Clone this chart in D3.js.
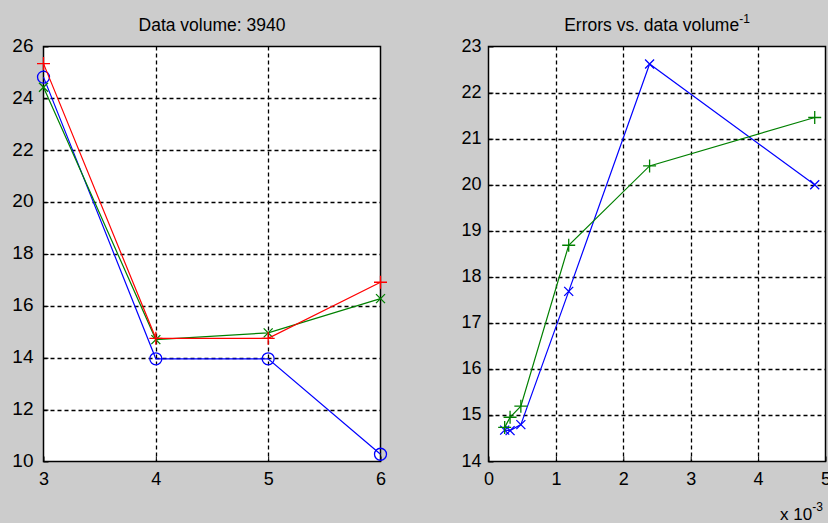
<!DOCTYPE html>
<html>
<head>
<meta charset="utf-8">
<script src="https://cdn.jsdelivr.net/npm/d3@7"></script>
<style>
  body { margin: 0; background: #cccccc; }
  svg { display: block; font-family: "Liberation Sans", Arial, sans-serif; }
</style>
</head>
<body>
<div id="chart"></div>
<script>
// left panel data (x = 3..6)
var leftX = [3, 4, 5, 6];
var leftBlue = [24.82, 13.96, 13.96, 10.28];
var leftGreen = [24.43, 14.7, 14.96, 16.28];
var leftRed = [25.34, 14.75, 14.75, 16.91];
var leftXTicks = [3, 4, 5, 6];
var leftYTicks = [10, 12, 14, 16, 18, 20, 22, 24, 26];

// right panel data (errors vs. inverse data volume)
var rightX = [0.00024, 0.00032, 0.00048, 0.00119, 0.00239, 0.00484];
var rightBlue = [14.68, 14.67, 14.8, 17.69, 22.62, 20.0];
var rightGreen = [14.74, 14.96, 15.2, 18.69, 20.41, 21.46];
var rightXTicks = [0, 0.001, 0.002, 0.003, 0.004, 0.005];
var rightYTicks = [14, 15, 16, 17, 18, 19, 20, 21, 22, 23];

var W = 828, H = 523;

var svg = d3.select("#chart")
  .append("svg")
    .attr("width", W)
    .attr("height", H);

svg.append("rect")
  .attr("width", W).attr("height", H)
  .attr("fill", "#cccccc");

var markers = {
  plus: "M-6.5,0H6.5M0,-6.5V6.5",
  cross: "M-4.5,-4.5L4.5,4.5M-4.5,4.5L4.5,-4.5"
};

function drawPanel(p) {
  var x = d3.scaleLinear().domain(p.xDomain).range(p.xRange);
  var y = d3.scaleLinear().domain(p.yDomain).range(p.yRange);
  var g = svg.append("g");

  // plot area
  g.append("rect")
    .attr("x", p.xRange[0]).attr("y", p.yRange[1])
    .attr("width", p.xRange[1] - p.xRange[0])
    .attr("height", p.yRange[0] - p.yRange[1])
    .attr("fill", "#ffffff");

  // dashed grid
  g.selectAll(".vgrid")
    .data(p.xTicks.filter(function(d) { return d > p.xDomain[0] && d < p.xDomain[1]; }))
    .enter().append("line")
      .attr("x1", function(d) { return Math.round(x(d)) + 0.5; })
      .attr("x2", function(d) { return Math.round(x(d)) + 0.5; })
      .attr("y1", p.yRange[1]).attr("y2", p.yRange[0])
      .attr("stroke", "#000").attr("stroke-width", 1.3)
      .attr("stroke-dasharray", "4,3");
  g.selectAll(".hgrid")
    .data(p.yTicks.filter(function(d) { return d > p.yDomain[0] && d < p.yDomain[1]; }))
    .enter().append("line")
      .attr("y1", function(d) { return Math.round(y(d)) + 0.5; })
      .attr("y2", function(d) { return Math.round(y(d)) + 0.5; })
      .attr("x1", p.xRange[0]).attr("x2", p.xRange[1])
      .attr("stroke", "#000").attr("stroke-width", 1.3)
      .attr("stroke-dasharray", "4,3");

  // axes (ticks inside like matlab)
  var ax = g.append("g")
    .attr("transform", "translate(0," + p.yRange[0] + ")")
    .call(d3.axisBottom(x).tickValues(p.xTicks).tickSizeInner(-5).tickSizeOuter(0).tickPadding(11)
      .tickFormat(p.xFormat));
  var ay = g.append("g")
    .attr("transform", "translate(" + p.xRange[0] + ",0)")
    .call(d3.axisLeft(y).tickValues(p.yTicks).tickSizeInner(-5).tickSizeOuter(0).tickPadding(p.yPad)
      .tickFormat(d3.format("d")));
  [ax, ay].forEach(function(a) {
    a.select(".domain").remove();
    a.selectAll("line").attr("stroke", "#000");
  });
  ax.selectAll("text").attr("fill", "#000").style("font-size", "18px")
    .style("font-family", "'Liberation Sans', Arial, sans-serif");
  ay.selectAll("text").attr("fill", "#000").style("font-size", p.yFontSize)
    .attr("dy", "0.25em")
    .style("font-family", p.yFont);

  // box
  g.append("rect")
    .attr("x", p.xRange[0]).attr("y", p.yRange[1])
    .attr("width", p.xRange[1] - p.xRange[0])
    .attr("height", p.yRange[0] - p.yRange[1])
    .attr("fill", "none").attr("stroke", "#000").attr("stroke-width", 1.5);

  // series
  p.series.forEach(function(s) {
    var pts = p.xs.map(function(v, i) { return [v, s.values[i]]; });
    g.append("path")
      .datum(pts)
      .attr("fill", "none")
      .attr("stroke", s.color)
      .attr("stroke-width", 1.2)
      .attr("d", d3.line().x(function(d) { return x(d[0]); }).y(function(d) { return y(d[1]); }));
    if (s.marker === "circle") {
      g.selectAll(null).data(pts).enter().append("circle")
        .attr("cx", function(d) { return x(d[0]); })
        .attr("cy", function(d) { return y(d[1]); })
        .attr("r", 6)
        .attr("fill", "none").attr("stroke", s.color).attr("stroke-width", 1.3);
    } else {
      g.selectAll(null).data(pts).enter().append("path")
        .attr("transform", function(d) { return "translate(" + x(d[0]) + "," + y(d[1]) + ")"; })
        .attr("d", markers[s.marker])
        .attr("fill", "none").attr("stroke", s.color).attr("stroke-width", 1.3);
    }
  });

  // title
  var t = g.append("text")
    .attr("x", (p.xRange[0] + p.xRange[1]) / 2)
    .attr("y", 31)
    .attr("text-anchor", "middle")
    .style("font-size", "17.5px")
    .text(p.title);
  if (p.titleSup) {
    t.append("tspan")
      .attr("dy", -8)
      .style("font-size", "12px")
      .text(p.titleSup);
  }
}

drawPanel({
  xDomain: [3, 6], xRange: [43.5, 380.5],
  yDomain: [10, 26], yRange: [461.5, 46.5],
  xTicks: leftXTicks, yTicks: leftYTicks,
  xFormat: d3.format("d"),
  yFont: "'Liberation Sans Narrow', 'Arial Narrow', 'Liberation Sans', sans-serif",
  yFontSize: "19px", yPad: 10,
  xs: leftX,
  series: [
    {values: leftBlue, color: "#0000ff", marker: "circle"},
    {values: leftGreen, color: "#008000", marker: "cross"},
    {values: leftRed, color: "#ff0000", marker: "plus"}
  ],
  title: "Data volume: 3940"
});

drawPanel({
  xDomain: [0, 0.005], xRange: [488.5, 825.5],
  yDomain: [14, 23], yRange: [461.5, 46.5],
  xTicks: rightXTicks, yTicks: rightYTicks,
  xFormat: function(d) { return Math.round(d * 1000); },
  yFont: "'Liberation Sans', Arial, sans-serif",
  yFontSize: "18px", yPad: 7,
  xs: rightX,
  series: [
    {values: rightBlue, color: "#0000ff", marker: "cross"},
    {values: rightGreen, color: "#008000", marker: "plus"}
  ],
  title: "Errors vs. data volume",
  titleSup: "-1"
});

// exponent label
var ex = svg.append("text")
  .attr("x", 780).attr("y", 520)
  .style("font-size", "17px")
  .text("x 10");
ex.append("tspan").attr("dy", -9).style("font-size", "12px").text("-3");
</script>
</body>
</html>
